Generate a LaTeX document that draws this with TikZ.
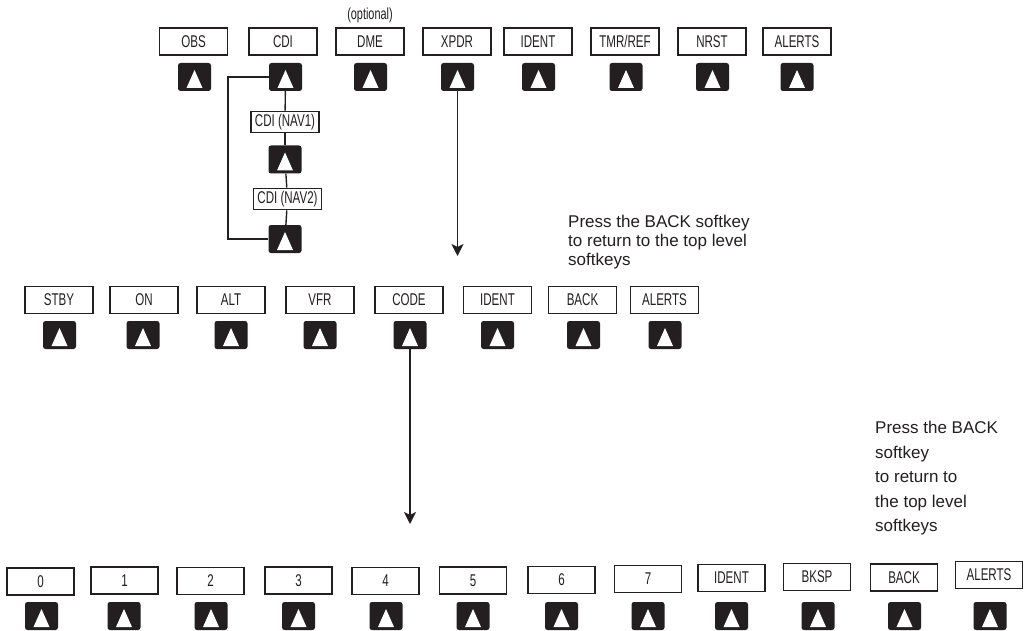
\documentclass[tikz,border=0pt]{standalone}
\usepackage{fontspec}
\usetikzlibrary{arrows.meta}
\newfontfamily\keyfont{Liberation Sans}[FakeStretch=0.68]
\newfontfamily\notefont{Liberation Sans}
\definecolor{keyblack}{HTML}{231F20}
\definecolor{inkgray}{HTML}{231F20}

\tikzset{
  softkey/.style={draw=inkgray, line width=1.7pt, fill=white, minimum width=68pt,
                  minimum height=27pt, inner sep=0pt, text=inkgray,
                  font=\keyfont\fontsize{17}{19}\selectfont},
  subkey/.style={softkey, minimum height=21pt},
  key/.style={fill=keyblack, rounded corners=2.5pt, minimum width=33pt,
              minimum height=28pt, inner sep=0pt,
              path picture={\fill[white, sharp corners]
                ([yshift=7pt]path picture bounding box.center) --
                ([xshift=-8pt,yshift=-11pt]path picture bounding box.center) --
                ([xshift=8pt,yshift=-11pt]path picture bounding box.center) -- cycle;}},
  note/.style={anchor=north west, align=left, inner sep=0pt, text=inkgray,
               font=\notefont\fontsize{17}{19}\selectfont},
}

\begin{document}
\begin{tikzpicture}[x=1pt,y=-1pt]
\useasboundingbox[fill=white] (0,0) rectangle (1033,631);

% top level softkeys
\begin{scope}[every node/.style={softkey}]
    \foreach \name/\x/\txt in {top1/193.5/OBS, top2/283/CDI, top3/370/DME,
                               top4/457/XPDR, top5/538/IDENT, top6/625/{TMR/REF},
                               top7/712/NRST, top8/797/ALERTS}
        \node (\name) at (\x,41.5) {\txt};
\end{scope}
\foreach \i/\x in {1/194.5, 2/285.5, 3/370.5, 4/457.5, 5/538.5, 6/626, 7/712.5, 8/797}
    \node[key] (topk\i) at (\x,77) {};
\node[inner sep=0pt, text=inkgray, font=\keyfont\fontsize{16}{18}\selectfont]
    (opt) at (370,15) {(optional)};

% CDI selection
\node[subkey] (nav1) at (285,122) {CDI (NAV1)};
\node[key] (navk1) at (285,159.5) {};
\node[subkey] (nav2) at (287.5,199) {CDI (NAV2)};
\node[key] (navk2) at (285,239) {};
\coordinate (loop) at (228,77);

\begin{scope}[line width=1.4pt, draw=inkgray]
    \draw (topk2) -- (nav1);
    \draw (nav1) -- (navk1);
    \draw (navk1) -- (nav2);
    \draw (nav2) -- (navk2);
    \draw (topk2.west) -- (loop) |- (navk2.west);
\end{scope}

% XPDR softkeys
\begin{scope}[every node/.style={softkey}]
    \foreach \name/\x/\txt in {mid1/59/STBY, mid2/144/ON, mid3/231/ALT, mid4/320/VFR,
                               mid5/409/CODE, mid6/497.5/IDENT, mid7/582.5/BACK,
                               mid8/664.5/ALERTS}
        \node (\name) at (\x,300) {\txt};
\end{scope}
\foreach \i/\x in {1/59.5, 2/143, 3/231, 4/320, 5/410, 6/497.5, 7/583.5, 8/665}
    \node[key] (midk\i) at (\x,335) {};

% CODE softkeys
\begin{scope}[every node/.style={softkey, minimum width=67pt}]
    \foreach \name/\x/\y/\txt in {low1/40.5/581.5/0, low2/124.5/580.5/1, low3/210.5/581/2,
                                  low4/298.5/580.5/3, low5/385.5/581/4, low6/473/580.5/5,
                                  low7/561.5/580/6, low8/648/579/7, low9/731.5/578/IDENT,
                                  low10/817/577/BKSP, low11/904/577.5/BACK,
                                  low12/989/575/ALERTS}
        \node (\name) at (\x,\y) {\txt};
\end{scope}
\foreach \i/\x in {1/41.5, 2/124, 3/211, 4/298.5, 5/386, 6/473, 7/561.5, 8/648,
                   9/731.5, 10/818, 11/904.5, 12/990}
    \node[key] (lowk\i) at (\x,616) {};

% arrows
\coordinate (xpdrend) at (457.5,256);
\coordinate (codeend) at (410,524);
\begin{scope}[line width=1.4pt, draw=inkgray,
              >={Stealth[length=12pt,width=12pt,inset=3pt]}]
    \draw[->] (topk4.south) -- (xpdrend);
    \draw[->] (midk5.south) -- (codeend);
\end{scope}

% notes
\node[note] (back1) at (568,215) {Press the BACK softkey\\to return to the top level\\softkeys};
\node[note, font=\notefont\fontsize{17}{24.5}\selectfont]
    (back2) at (875,421) {Press the BACK\\softkey\\to return to\\the top level\\softkeys};
\end{tikzpicture}
\end{document}
